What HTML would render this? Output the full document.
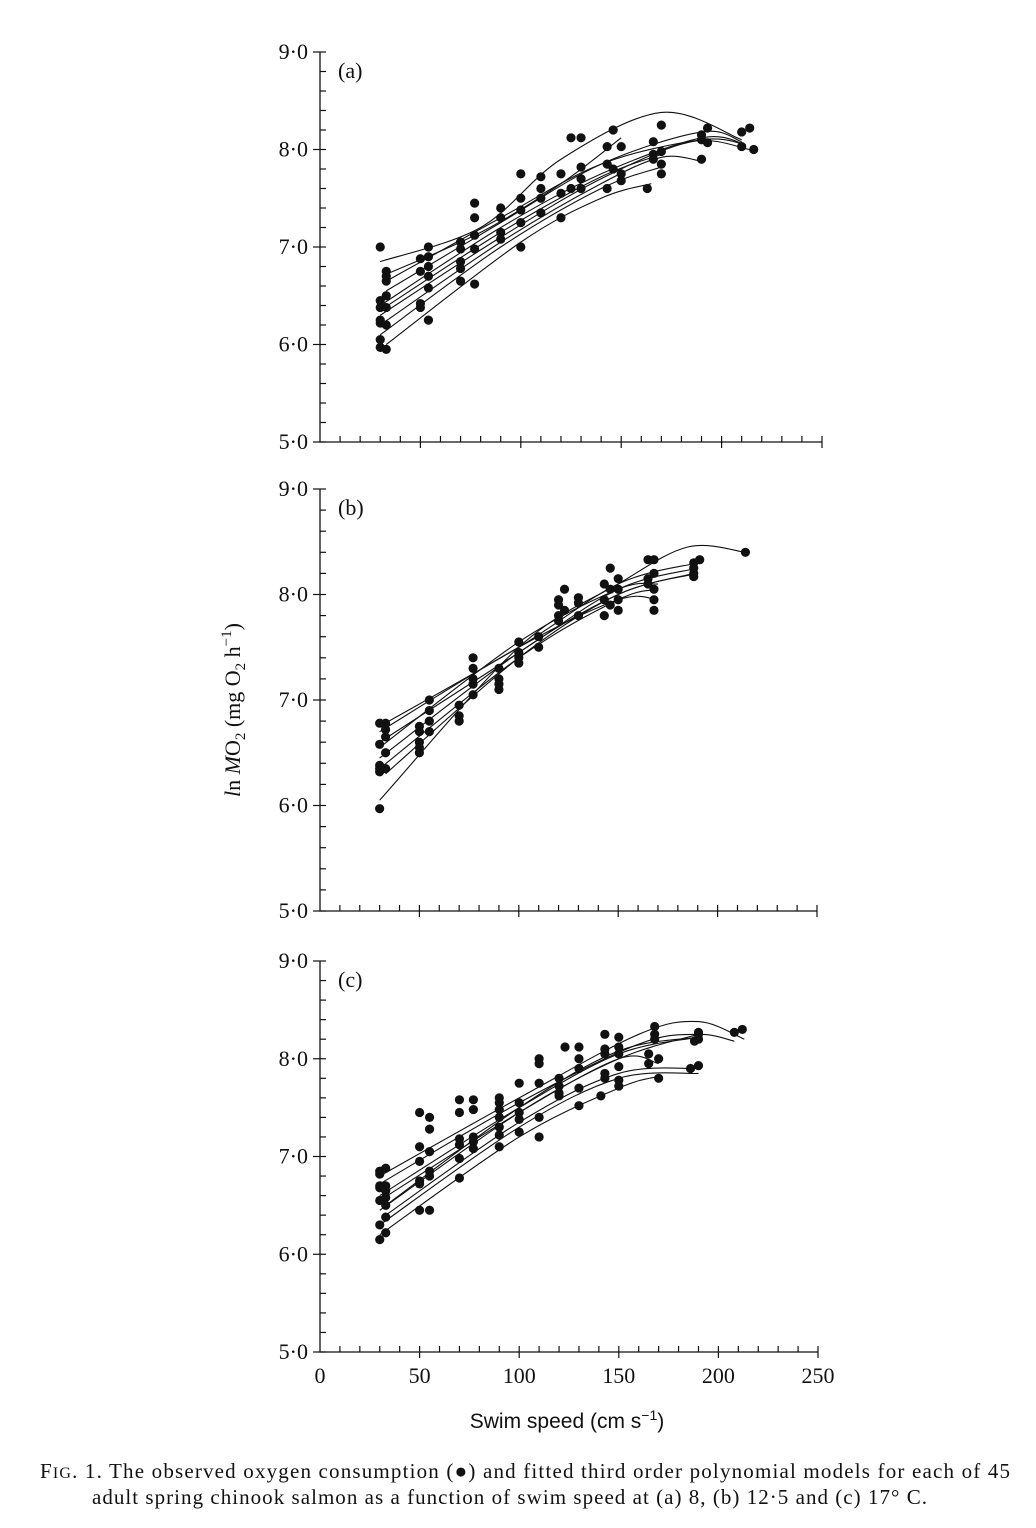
<!DOCTYPE html>
<html><head><meta charset="utf-8"><style>
body{margin:0;background:#fff;width:1036px;height:1528px;overflow:hidden}
svg{position:absolute;left:0;top:0}
.t{font-family:"Liberation Serif",serif;font-size:22px;fill:#111}
.c{font-family:"Liberation Serif",serif;font-size:21px;fill:#111}
</style></head><body>
<svg id="chart" width="1036" height="1528" xmlns="http://www.w3.org/2000/svg">
<text class="t" x="0" y="0" transform="translate(240,710) rotate(-90)" text-anchor="middle"><tspan font-style="italic">l</tspan>n <tspan font-style="italic">M</tspan>O<tspan font-size="15" dy="5">2</tspan><tspan dy="-5"> (mg O</tspan><tspan font-size="15" dy="5">2</tspan><tspan dy="-5"> h</tspan><tspan font-size="15" dy="-9">−1</tspan><tspan dy="9">)</tspan></text>
<text x="567" y="1428" text-anchor="middle" style="font-family:'Liberation Sans',sans-serif;font-size:21px;fill:#111">Swim speed (cm s<tspan font-size="14" dy="-8">−1</tspan><tspan dy="8">)</tspan></text>
<text class="c" x="40" y="1478" textLength="970" lengthAdjust="spacing">F<tspan font-size="16">IG</tspan>. 1.  The observed oxygen consumption (●) and fitted third order polynomial models for each of 45</text>
<text class="c" x="92" y="1504" textLength="835" lengthAdjust="spacing">adult spring chinook salmon as a function of swim speed at (a) 8, (b) 12·5 and (c) 17° C.</text>
</svg>
<script>
// x ticks
const xTicks=[0,50,100,150,200,250];
const yTicks=[5,6,7,8,9];
// Panel (a) observations [speed, lnMO2]
const ptsA=[[30,7.0],[30,6.45],[30,6.38],[30,6.25],[30,6.22],[30,6.05],[30,5.97],[33,6.75],[33,6.7],[33,6.65],[33,6.5],[33,6.38],[33,6.2],[33,5.95],
[50,6.88],[50,6.75],[50,6.42],[50,6.38],[54,7.0],[54,6.9],[54,6.8],[54,6.7],[54,6.58],[54,6.25],
[70,7.05],[70,6.98],[70,6.85],[70,6.78],[70,6.65],[77,7.45],[77,7.3],[77,7.12],[77,6.98],[77,6.62],
[90,7.4],[90,7.3],[90,7.15],[90,7.08],[100,7.75],[100,7.5],[100,7.38],[100,7.25],[100,7.0],
[110,7.72],[110,7.6],[110,7.5],[110,7.35],[120,7.75],[120,7.55],[120,7.3],[125,8.12],[125,7.6],
[130,8.12],[130,7.82],[130,7.7],[130,7.6],[143,7.85],[143,7.6],[143,8.03],[146,8.2],[146,7.8],
[150,7.75],[150,7.68],[150,8.03],[163,7.6],[166,8.08],[166,7.95],[166,7.9],[170,8.25],[170,7.98],[170,7.85],[170,7.75],
[190,8.1],[190,8.15],[190,7.9],[193,8.22],[193,8.07],[210,8.18],[210,8.03],[214,8.22],[216,8.0]];
const curvesA=[
[[30,6.85],[80,7.2],[120,7.9],[170,8.38],[210,8.1]],
[[33,6.72],[80,7.15],[120,7.65],[150,8.12]],
[[33,6.55],[90,7.25],[140,7.85],[190,8.18],[210,8.08]],
[[30,6.4],[90,7.2],[140,7.75],[190,8.12],[212,8.05]],
[[30,6.3],[90,7.1],[140,7.7],[185,8.08],[214,8.0]],
[[30,6.2],[90,7.05],[140,7.65],[170,7.92],[190,7.88]],
[[30,6.1],[90,7.0],[140,7.6],[170,7.82]],
[[33,6.0],[100,7.05],[140,7.5],[165,7.65]],
[[30,6.35],[90,7.15],[140,7.72],[170,7.95]],
[[33,6.65],[90,7.3],[140,7.85],[190,8.1],[212,8.05]]];
// Panel (b)
const ptsB=[[30,6.78],[30,6.58],[30,6.38],[30,6.35],[30,6.32],[30,5.97],[33,6.78],[33,6.72],[33,6.65],[33,6.5],[33,6.35],
[50,6.75],[50,6.7],[50,6.6],[50,6.55],[50,6.5],[55,7.0],[55,6.9],[55,6.8],[55,6.7],[70,6.95],[70,6.85],[70,6.8],
[77,7.4],[77,7.3],[77,7.2],[77,7.05],[77,7.15],[90,7.3],[90,7.2],[90,7.15],[90,7.1],[100,7.55],[100,7.45],[100,7.4],[100,7.35],
[110,7.6],[110,7.5],[120,7.95],[120,7.9],[120,7.8],[120,7.75],[123,8.05],[123,7.85],[130,7.97],[130,7.92],[130,7.8],
[143,8.1],[143,7.95],[143,7.8],[146,8.25],[146,8.05],[146,7.9],[150,8.15],[150,8.05],[150,7.85],[150,7.95],
[165,8.33],[165,8.15],[165,8.1],[168,8.33],[168,8.2],[168,8.05],[168,7.95],[168,7.85],[188,8.3],[188,8.25],[188,8.2],[188,8.17],[191,8.33],[214,8.4]];
const curvesB=[
[[30,6.05],[100,7.5],[150,8.1],[185,8.45],[214,8.4]],
[[30,6.75],[100,7.5],[150,8.1],[190,8.3]],
[[30,6.6],[100,7.45],[150,8.05],[190,8.25]],
[[30,6.45],[100,7.45],[150,8.0],[188,8.2]],
[[30,6.35],[100,7.4],[150,7.95],[170,8.05]],
[[30,6.7],[100,7.5],[150,7.95],[170,7.95]],
[[33,6.3],[100,7.4],[150,8.0],[190,8.2]],
[[30,6.55],[100,7.55],[150,8.05],[170,8.1]]];
// Panel (c)
const ptsC=[[30,6.85],[30,6.82],[30,6.7],[30,6.68],[30,6.55],[30,6.3],[30,6.15],[33,6.88],[33,6.7],[33,6.65],[33,6.58],[33,6.5],[33,6.38],[33,6.22],
[50,7.45],[50,7.1],[50,6.95],[50,6.75],[50,6.72],[50,6.45],[55,7.4],[55,7.28],[55,7.05],[55,6.85],[55,6.8],[55,6.45],
[70,7.58],[70,7.45],[70,7.18],[70,7.12],[70,6.98],[70,6.78],[77,7.58],[77,7.48],[77,7.2],[77,7.15],[77,7.08],
[90,7.6],[90,7.55],[90,7.48],[90,7.4],[90,7.3],[90,7.22],[90,7.1],[100,7.75],[100,7.55],[100,7.45],[100,7.38],[100,7.25],
[110,8.0],[110,7.95],[110,7.75],[110,7.4],[110,7.2],[120,7.8],[120,7.72],[120,7.65],[120,7.62],[123,8.12],
[130,8.12],[130,8.0],[130,7.9],[130,7.7],[130,7.52],[143,8.25],[143,8.1],[143,8.05],[143,7.85],[143,7.8],[141,7.62],
[150,8.22],[150,8.12],[150,8.05],[150,7.92],[150,7.78],[150,7.72],[165,8.05],[165,7.95],[168,8.33],[168,8.25],[168,8.2],[170,8.0],[170,7.8],
[188,8.18],[186,7.9],[190,8.27],[190,8.25],[190,8.2],[190,7.93],[208,8.27],[212,8.3]];
const curvesC=[
[[30,6.8],[100,7.6],[160,8.25],[190,8.38],[213,8.2]],
[[30,6.72],[100,7.55],[160,8.15],[190,8.25],[208,8.18]],
[[30,6.6],[100,7.5],[150,8.05],[190,8.22]],
[[30,6.55],[100,7.45],[150,8.0],[170,7.95]],
[[30,6.45],[100,7.45],[150,8.0],[190,8.25]],
[[33,6.4],[100,7.35],[150,7.85],[190,7.9]],
[[30,6.3],[100,7.3],[150,7.8],[190,7.85]],
[[30,6.2],[100,7.2],[150,7.7],[170,7.82]],
[[33,6.5],[100,7.5],[150,8.08],[190,8.22]]];

const NS="http://www.w3.org/2000/svg";
const svg=document.getElementById('chart');
function mk(tag,attrs,parent){const e=document.createElementNS(NS,tag);for(const k in attrs)e.setAttribute(k,attrs[k]);(parent||svg).appendChild(e);return e;}
function smooth(p){let d=`M${p[0][0]},${p[0][1]}`;for(let i=0;i<p.length-1;i++){const p0=p[Math.max(i-1,0)],p1=p[i],p2=p[i+1],p3=p[Math.min(i+2,p.length-1)];
d+=` C${p1[0]+(p2[0]-p0[0])/6},${p1[1]+(p2[1]-p0[1])/6} ${p2[0]-(p3[0]-p1[0])/6},${p2[1]-(p3[1]-p1[1])/6} ${p2[0]},${p2[1]}`;}return d;}
function panel(cfg,pts,curves,label){
  const g=mk('g',{});
  
  
  const X=v=>cfg.x0+(v)*(cfg.x1-cfg.x0)/250;
  const Y=v=>cfg.y9+(9-v)*(cfg.y5-cfg.y9)/4;
  const ax=mk('path',{d:`M${cfg.x0},${cfg.y9} V${cfg.y5} H${cfg.x1}`,stroke:'#111','stroke-width':1.3,fill:'none'},g);
  
  
  for(let v=5;v<=9.001;v+=0.2){const y=Y(v);const major=Math.abs(v-Math.round(v))<0.01;
    mk('line',{x1:major?cfg.x0-7:cfg.x0,x2:cfg.x0+6,y1:y,y2:y,stroke:'#111','stroke-width':1.2},g);}
  yTicks.forEach(v=>{const t=mk('text',{x:cfg.x0-12,y:Y(v)+7,'text-anchor':'end',class:'t'},g);t.textContent=v+'·0';
    
    });
  for(let v=10;v<=250;v+=10){const x=X(v);const major=v%50===0;
    mk('line',{x1:x,x2:x,y1:cfg.y5-6,y2:major?cfg.y5+6:cfg.y5,stroke:'#111','stroke-width':1.2},g);}
  if(cfg.xl){xTicks.forEach(v=>{const t=mk('text',{x:X(v),y:cfg.y5+31,'text-anchor':'middle',class:'t'},g);t.textContent=v;
    
    });}
  const pl=mk('text',{x:cfg.x0+18,y:cfg.y9+26,class:'t'},g);pl.textContent='('+label+')';
  
  
  curves.forEach(c=>{const p=mk('path',{d:smooth(c.map(q=>[X(q[0]),Y(q[1])])),stroke:'#111','stroke-width':1.1,fill:'none'},g);
    
    });
  pts.forEach(q=>{const c=mk('circle',{cx:X(q[0]),cy:Y(q[1]),r:4.6,fill:'#111'},g);
    
    });
}
panel({x0:320,x1:822,y9:52,y5:442},ptsA,curvesA,'a');
panel({x0:320,x1:817,y9:489,y5:911},ptsB,curvesB,'b');
panel({x0:320,x1:818,y9:961,y5:1352,xl:true},ptsC,curvesC,'c');
</script>
</body></html>
